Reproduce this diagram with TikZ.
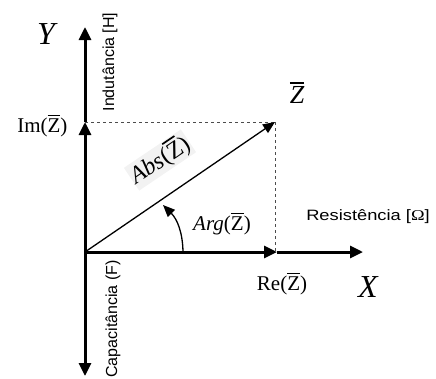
\documentclass[tikz,border=0pt]{standalone}
\usepackage{fontspec}
\setmainfont{Liberation Serif}
\setsansfont{Liberation Sans}
\usetikzlibrary{arrows.meta}

% Z with a bar over it, set in the text font
\newcommand{\barred}[1]{{\setbox0\hbox{#1}\vbox{\hrule width \wd0 height 0.07em \kern0.12em \box0}}}
\newcommand{\zbar}{\barred{Z}}
\newcommand{\zbarit}{\barred{\itshape Z}}

\tikzset{
  axis/.style={line width=3pt, -{Triangle[length=13pt,width=12pt]}},
  phasor/.style={line width=1.3pt, -{Triangle[length=12pt,width=10pt]}},
  guide/.style={dashed, line width=0.8pt, black!70},
  big/.style={font=\fontsize{32}{32}\selectfont\itshape},
  lbl/.style={font=\fontsize{21}{21}\selectfont},
  unit/.style={font=\fontsize{16}{16}\selectfont\sffamily}
}

\begin{document}
\begin{tikzpicture}[x=1pt,y=-1pt]
\useasboundingbox (0,0) rectangle (436,378);
% axes
\coordinate (O) at (85,252);
\coordinate (Ytop) at (85,27);
\coordinate (Im) at (85,122);
\coordinate (Ybot) at (85,376);
\coordinate (Re) at (277,252);
\coordinate (Xend) at (363,252);
\coordinate (Z) at (275,122);
\coordinate (Abeg) at (183,252);
\coordinate (Aend) at (163,205);
\draw[axis] (O) -- (Im);
\draw[axis] (Im) -- (Ytop);
\draw[axis] (O) -- (Ybot);
\draw[axis] (O) -- (Re);
\draw[axis] (Re) -- (Xend);
% projections
\draw[guide] (Im) -- (Z |- Im);
\draw[guide] (Z) -- (Z |- O);
% phasor and angle
\draw[phasor] (O) -- (Z);
\draw[phasor] (Abeg) to[bend right=22] (Aend);
% labels
\node[big] (ylbl) at (46,34) {Y};
\node[big] (xlbl) at (368,287) {X};
\node[lbl, anchor=east] (imlbl) at (71,126) {Im(\zbar)};
\node[lbl] (relbl) at (282,284) {Re(\zbar)};
\node[lbl, font=\fontsize{26}{26}\selectfont] (zlbl) at (297,93) {\zbarit};
\node[lbl] (arglbl) at (222,224) {\textit{Arg}(\zbar)};
\node[lbl, font=\fontsize{24}{24}\selectfont, fill=black!5, rotate=34, inner sep=1pt] (abslbl) at (160,160) {\textit{Abs}(\zbar)};
\node[unit, rotate=90] (indlbl) at (110,62) {Indutância [H]};
\node[unit, rotate=90] (caplbl) at (113,319) {Capacitância (F)};
\node[unit, font=\fontsize{15}{15}\selectfont\sffamily] (reslbl) at (368,217) {\scalebox{1.22}[1]{Resistência [{\rmfamily Ω}]}};
\end{tikzpicture}
\end{document}
